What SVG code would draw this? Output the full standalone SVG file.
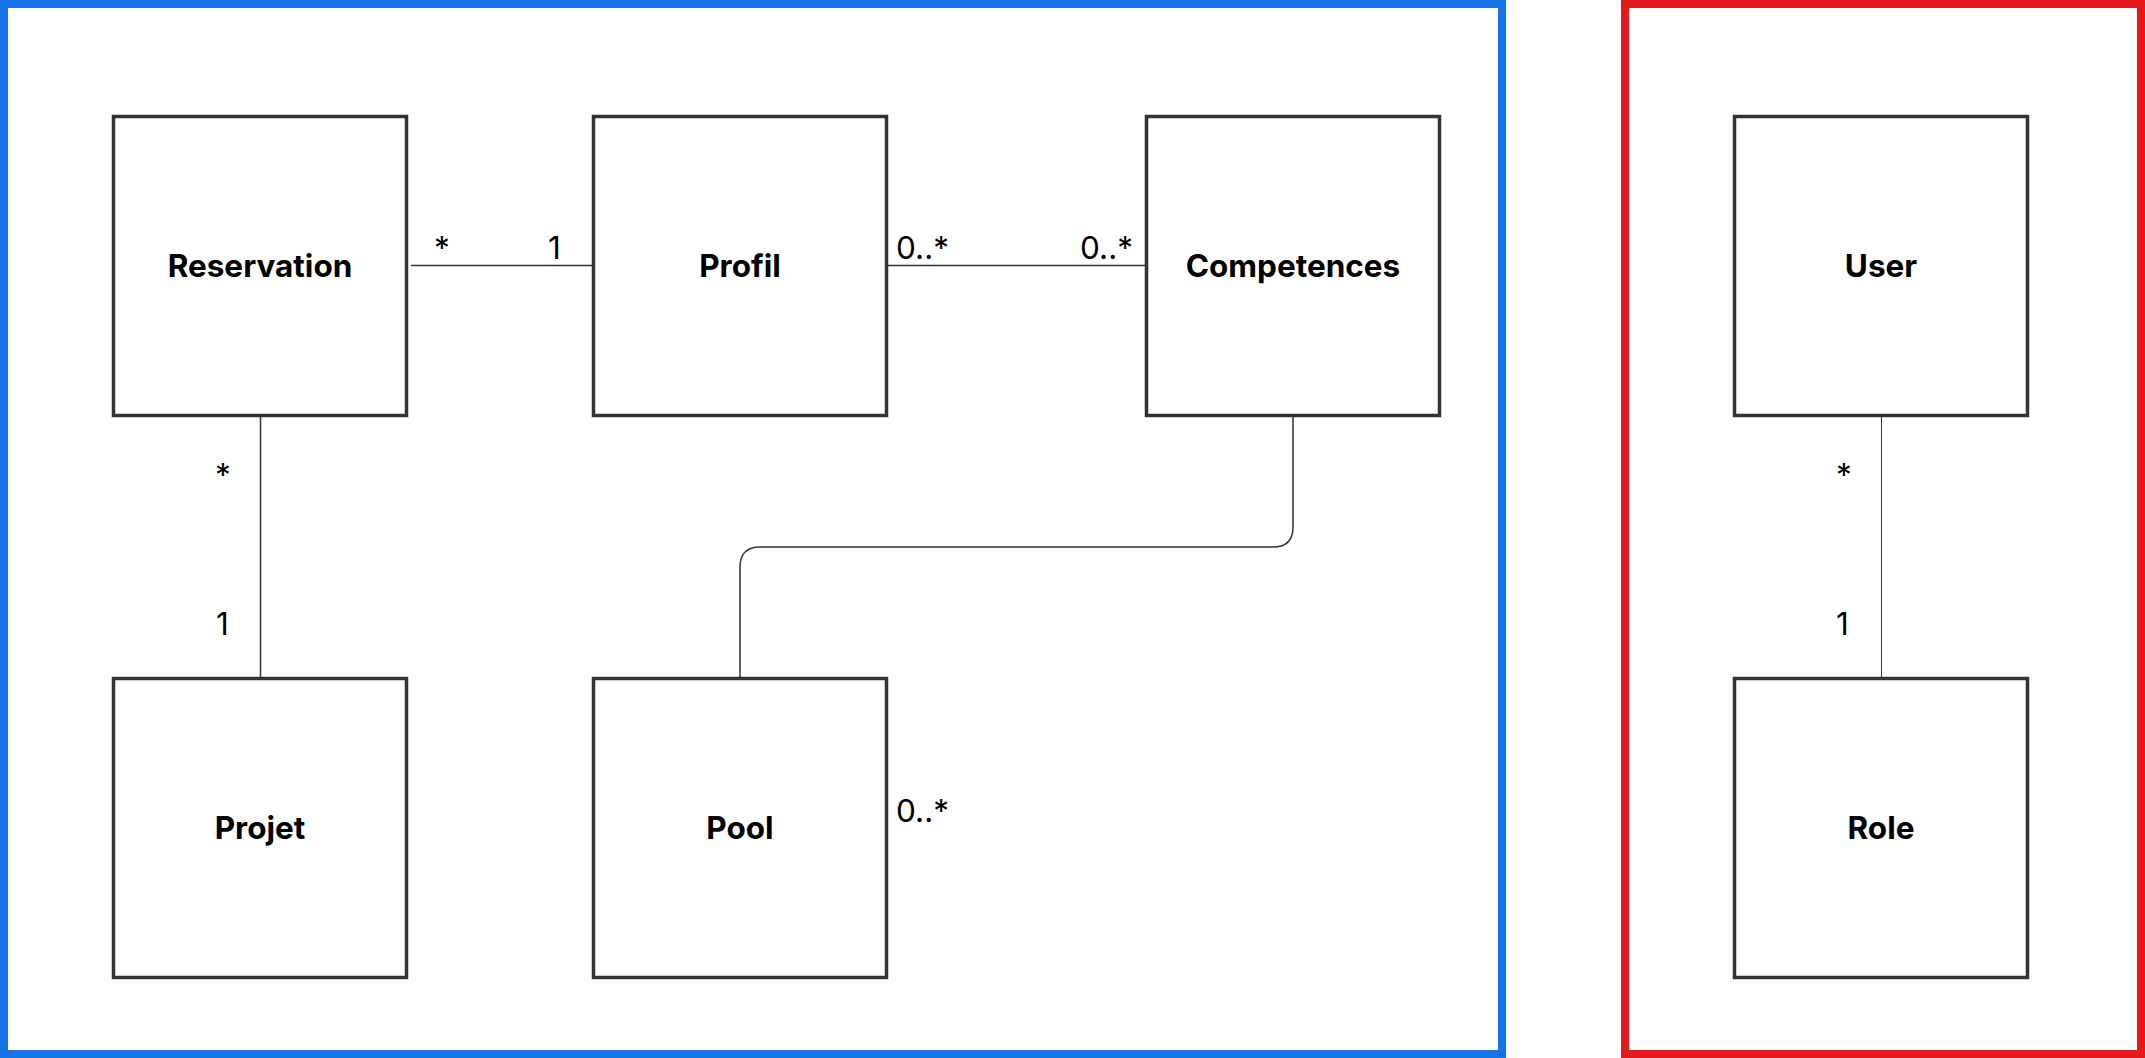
<svg xmlns="http://www.w3.org/2000/svg" width="2145" height="1058" viewBox="0 0 2145 1058">
<style>
.frame{fill:none;stroke-width:8}
.box{fill:#fff;stroke:#333;stroke-width:3.5}
.name{font-family:Inter,"Liberation Sans",sans-serif;font-weight:700;font-size:31.5px;fill:#000;text-anchor:middle}
.mult{font-family:Inter,"Liberation Sans",sans-serif;font-weight:400;font-size:31.5px;fill:#000}
.conn{fill:none;stroke:#333;stroke-width:1.5}
</style>
<rect width="2145" height="1058" fill="#fff"/>
<g id="frame-blue"><rect class="frame" x="4" y="4" width="1498" height="1050" stroke="#1473E6"/></g>
<g id="frame-red"><rect class="frame" x="1625" y="4" width="516" height="1050" stroke="#E5191C"/></g>
<g id="connectors">
<path class="conn" d="M411 265.5H592"/>
<path class="conn" d="M888 265.5H1145"/>
<path class="conn" d="M260.5 417V677"/>
<path class="conn" d="M1293 417V527Q1293 547 1273 547H760Q740 547 740 567V677"/>
<path class="conn" d="M1881.5 417V677" style="stroke-width:1"/>
</g>
<g id="labels">
<text class="mult" x="434" y="259">*</text>
<text class="mult" x="548" y="259">1</text>
<text class="mult" x="896" y="259">0..*</text>
<text class="mult" x="1080" y="259">0..*</text>
<text class="mult" x="215" y="486">*</text>
<text class="mult" x="216" y="635">1</text>
<text class="mult" x="896" y="822">0..*</text>
<text class="mult" x="1836" y="486">*</text>
<text class="mult" x="1836" y="635">1</text>
</g>
<g id="node-reservation"><rect class="box" x="113.5" y="116.5" width="293" height="299"/><text class="name" x="260" y="277">Reservation</text></g>
<g id="node-profil"><rect class="box" x="593.5" y="116.5" width="293" height="299"/><text class="name" x="740" y="277">Profil</text></g>
<g id="node-competences"><rect class="box" x="1146.5" y="116.5" width="293" height="299"/><text class="name" x="1293" y="277">Competences</text></g>
<g id="node-user"><rect class="box" x="1734.5" y="116.5" width="293" height="299"/><text class="name" x="1881" y="277">User</text></g>
<g id="node-projet"><rect class="box" x="113.5" y="678.5" width="293" height="299"/><text class="name" x="260" y="839">Projet</text></g>
<g id="node-pool"><rect class="box" x="593.5" y="678.5" width="293" height="299"/><text class="name" x="740" y="839">Pool</text></g>
<g id="node-role"><rect class="box" x="1734.5" y="678.5" width="293" height="299"/><text class="name" x="1881" y="839">Role</text></g>
</svg>
